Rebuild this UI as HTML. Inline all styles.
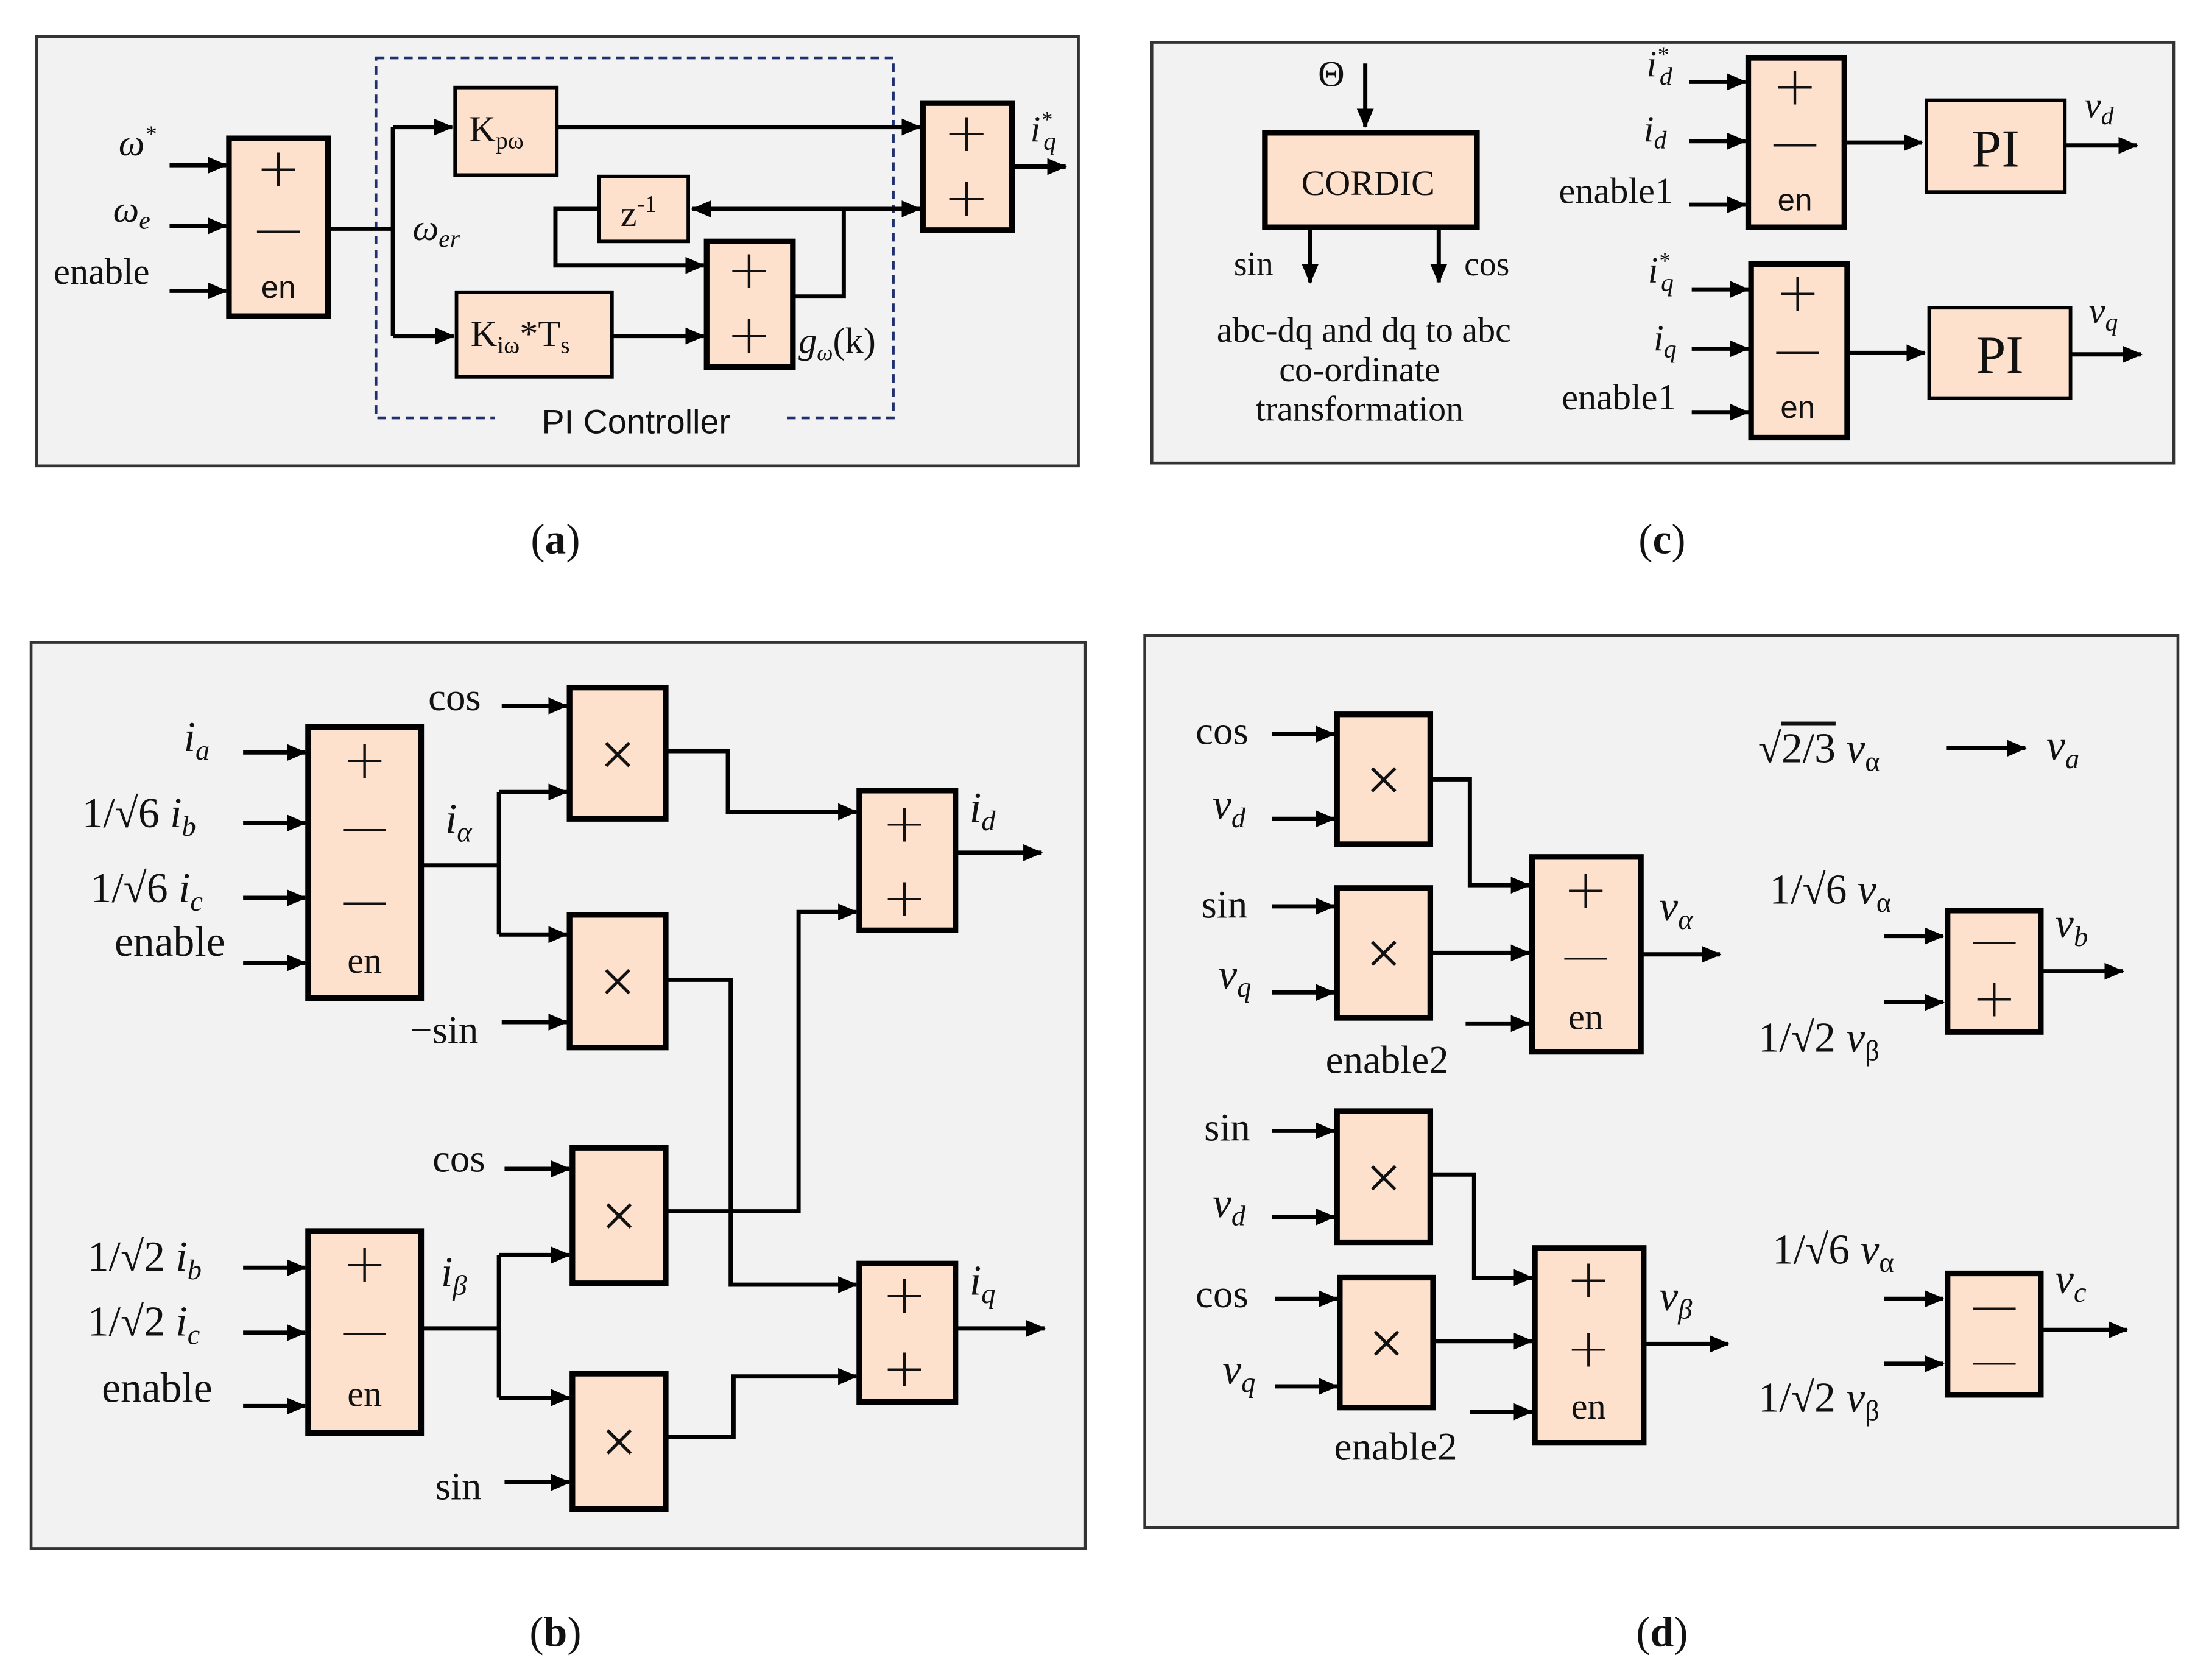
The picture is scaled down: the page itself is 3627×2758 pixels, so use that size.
<!DOCTYPE html>
<html><head><meta charset="utf-8"><style>
html,body{margin:0;padding:0;background:#fff}
svg{display:block}
text{font-family:"Liberation Serif","DejaVu Serif",serif;fill:#111}
.i{font-style:italic}
.s{font-family:"Liberation Sans",sans-serif}
.p{font-size:38px;font-family:"DejaVu Sans","Liberation Sans",sans-serif;font-weight:300}
</style></head><body>
<svg width="3627" height="2758" viewBox="0 0 1563 1190" preserveAspectRatio="none" xmlns="http://www.w3.org/2000/svg">
<defs>
<marker id="a" markerWidth="14" markerHeight="12" refX="13" refY="6" orient="auto" markerUnits="userSpaceOnUse"><path d="M0,0 L14,6 L0,12 z" fill="#000"/></marker>
</defs>
<g fill="#f2f2f2" stroke="#333" stroke-width="2">
<rect x="26" y="26" width="737" height="304"/>
<rect x="815" y="30" width="723" height="298"/>
<rect x="22" y="455" width="746" height="642"/>
<rect x="810" y="450" width="731" height="632"/>
</g>
<g fill="#fde1cd" stroke="#000" stroke-width="4">
<rect x="162" y="98" width="70" height="126"/>
<rect x="322" y="62" width="72" height="62" stroke-width="2.5"/>
<rect x="323" y="207" width="110" height="60" stroke-width="2.5"/>
<rect x="424" y="125" width="63" height="46" stroke-width="2.5"/>
<rect x="500" y="171" width="61" height="89"/>
<rect x="653" y="73" width="63" height="90"/>
<rect x="895" y="94" width="150" height="67"/>
<rect x="1237" y="41" width="68" height="120"/>
<rect x="1363" y="71" width="98" height="65" stroke-width="2.5"/>
<rect x="1239" y="187" width="68" height="123"/>
<rect x="1365" y="218" width="100" height="64" stroke-width="2.5"/>
<rect x="218" y="515" width="80" height="192"/>
<rect x="218" y="872" width="80" height="143"/>
<rect x="403" y="487" width="68" height="93"/>
<rect x="403" y="648" width="68" height="94"/>
<rect x="405" y="813" width="66" height="96"/>
<rect x="405" y="973" width="66" height="96"/>
<rect x="608" y="560" width="68" height="99"/>
<rect x="608" y="895" width="68" height="98"/>
<rect x="946" y="506" width="66" height="92"/>
<rect x="946" y="629" width="66" height="92"/>
<rect x="946" y="787" width="66" height="93"/>
<rect x="948" y="905" width="66" height="92"/>
<rect x="1084" y="607" width="77" height="138"/>
<rect x="1086" y="884" width="77" height="138"/>
<rect x="1378" y="645" width="66" height="86"/>
<rect x="1378" y="902" width="66" height="86"/>
</g>
<rect x="266" y="41" width="366" height="255" fill="none" stroke="#1f2f6f" stroke-width="2" stroke-dasharray="6,4"/>
<rect x="350" y="284" width="205" height="24" fill="#f2f2f2"/>

<g stroke="#000" stroke-width="3" fill="none" marker-end="url(#a)">
<path d="M120 117H160"/><path d="M120 160H160"/><path d="M120 206H160"/>
<path d="M278 90H320"/><path d="M278 238H321"/>
<path d="M394 90H651"/><path d="M433 238H498"/>
<path d="M650 148H490"/><path d="M597 148H651"/>
<path d="M424 148H393V188H498"/>
<path d="M716 118H754"/>
<path d="M966 45V90"/><path d="M927 161V200"/><path d="M1018 161V200"/>
<path d="M1195 58H1235"/><path d="M1195 100H1235"/><path d="M1195 145H1235"/>
<path d="M1305 101H1360"/><path d="M1461 103H1512"/>
<path d="M1197 205H1237"/><path d="M1197 247H1237"/><path d="M1197 292H1237"/>
<path d="M1307 250H1362"/><path d="M1465 251H1515"/>
<path d="M172 533H216"/><path d="M172 583H216"/><path d="M172 636H216"/><path d="M172 682H216"/>
<path d="M172 898H216"/><path d="M172 944H216"/><path d="M172 996H216"/>
<path d="M353 561H401"/><path d="M353 662H401"/>
<path d="M353 889H403"/><path d="M353 990H403"/>
<path d="M355 500H401"/><path d="M355 724H401"/><path d="M357 828H403"/><path d="M357 1050H403"/>
<path d="M471 532H515V575H606"/>
<path d="M471 694H517V910H606"/>
<path d="M471 858H565V646H606"/>
<path d="M471 1018H519V975H606"/>
<path d="M676 604H737"/><path d="M676 941H739"/>
<path d="M900 520H944"/><path d="M900 580H944"/>
<path d="M900 642H944"/><path d="M900 703H944"/>
<path d="M900 801H944"/><path d="M900 862H944"/>
<path d="M902 920H946"/><path d="M902 982H946"/>
<path d="M1012 552H1040V627H1082"/><path d="M1012 675H1082"/><path d="M1037 725H1082"/>
<path d="M1012 832H1043V905H1084"/><path d="M1014 950H1084"/><path d="M1040 1000H1084"/>
<path d="M1161 676H1217"/><path d="M1163 952H1223"/>
<path d="M1377 530H1433"/>
<path d="M1333 663H1375"/><path d="M1333 710H1375"/><path d="M1444 688H1502"/>
<path d="M1333 920H1375"/><path d="M1333 966H1375"/><path d="M1444 942H1505"/>
</g>
<g stroke="#000" stroke-width="3" fill="none">
<path d="M232 162H278M278 90V238"/>
<path d="M561 210H597V148"/>
<path d="M298 613H353M353 561V662"/>
<path d="M298 941H353M353 889V990"/>
</g>

<g font-size="30" text-anchor="middle">
<text x="197" y="132" class="p">+</text><text x="197" y="171">—</text><text x="197" y="211" class="s" font-size="22">en</text>
<text x="530" y="204" class="p">+</text><text x="530" y="250" class="p">+</text>
<text x="684" y="107" class="p">+</text><text x="684" y="153" class="p">+</text>
<text x="1270" y="74" class="p">+</text><text x="1270" y="110">—</text><text x="1270" y="149" class="s" font-size="22">en</text>
<text x="1272" y="220" class="p">+</text><text x="1272" y="257">—</text><text x="1272" y="296" class="s" font-size="22">en</text>
<text x="258" y="551" class="p">+</text><text x="258" y="595">—</text><text x="258" y="647">—</text><text x="258" y="689" font-size="26">en</text>
<text x="258" y="908" class="p">+</text><text x="258" y="952">—</text><text x="258" y="996" font-size="26">en</text>
<text x="640" y="596" class="p">+</text><text x="640" y="649" class="p">+</text>
<text x="640" y="930" class="p">+</text><text x="640" y="982" class="p">+</text>
<g font-size="44"><text x="437" y="549">×</text><text x="437" y="710">×</text><text x="438" y="876">×</text><text x="438" y="1036">×</text>
<text x="979" y="567">×</text><text x="979" y="690">×</text><text x="979" y="849">×</text><text x="981" y="966">×</text></g>
<text x="1122" y="643" class="p">+</text><text x="1122" y="686">—</text><text x="1122" y="729" font-size="26">en</text>
<text x="1124" y="919" class="p">+</text><text x="1124" y="968" class="p">+</text><text x="1124" y="1005" font-size="26">en</text>
<text x="1411" y="675">—</text><text x="1411" y="720" class="p">+</text>
<text x="1411" y="934">—</text><text x="1411" y="973">—</text>
</g>

<g font-size="26">
<text x="84" y="110" class="i">ω<tspan font-size="16" dy="-10">*</tspan></text>
<text x="80" y="157" class="i">ω<tspan font-size="18" dy="5">e</tspan></text>
<text x="38" y="201">enable</text>
<text x="292" y="170" class="i">ω<tspan font-size="18" dy="5">er</tspan></text>
<text x="332" y="100">K<tspan font-size="17" dy="5">pω</tspan></text>
<text x="333" y="245">K<tspan font-size="17" dy="5">iω</tspan><tspan dy="-5">*T</tspan><tspan font-size="17" dy="5">s</tspan></text>
<text x="439" y="160">z<tspan font-size="17" dy="-10">-1</tspan></text>
<text x="565" y="250"><tspan class="i">g</tspan><tspan font-size="16" dy="5" class="i">ω</tspan><tspan dy="-5">(k)</tspan></text>
<text x="729" y="100" class="i">i<tspan font-size="16" dy="-10">*</tspan><tspan font-size="18" dx="-6" dy="16">q</tspan></text>
<text x="450" y="307" text-anchor="middle" class="s" font-size="24">PI Controller</text>
<text x="942" y="61" text-anchor="middle">Θ</text>
<text x="968" y="138" text-anchor="middle" font-size="25">CORDIC</text>
<text x="887" y="195" text-anchor="middle" font-size="24">sin</text>
<text x="1052" y="195" text-anchor="middle" font-size="24">cos</text>
<text x="965" y="242" text-anchor="middle" font-size="25">abc-dq and dq to abc</text>
<text x="962" y="270" text-anchor="middle" font-size="25">co-ordinate</text>
<text x="962" y="298" text-anchor="middle" font-size="25">transformation</text>
<text x="1165" y="54" class="i">i<tspan font-size="16" dy="-10">*</tspan><tspan font-size="18" dx="-6" dy="16">d</tspan></text>
<text x="1163" y="100" class="i">i<tspan font-size="18" dy="5">d</tspan></text>
<text x="1103" y="144">enable1</text>
<text x="1166" y="200" class="i">i<tspan font-size="16" dy="-10">*</tspan><tspan font-size="18" dx="-6" dy="16">q</tspan></text>
<text x="1170" y="248" class="i">i<tspan font-size="18" dy="5">q</tspan></text>
<text x="1105" y="290">enable1</text>
<text x="1412" y="118" text-anchor="middle" font-size="38">PI</text>
<text x="1415" y="264" text-anchor="middle" font-size="38">PI</text>
<text x="1475" y="83" class="i">v<tspan font-size="18" dy="5">d</tspan></text>
<text x="1478" y="229" class="i">v<tspan font-size="18" dy="5">q</tspan></text>
<g font-size="30">
<text x="130" y="532" class="i">i<tspan font-size="20" dy="6">a</tspan></text>
<text x="58" y="586">1/√6 <tspan class="i">i</tspan><tspan class="i" font-size="20" dy="6">b</tspan></text>
<text x="64" y="639">1/√6 <tspan class="i">i</tspan><tspan class="i" font-size="20" dy="6">c</tspan></text>
<text x="81" y="677">enable</text>
<text x="62" y="900">1/√2 <tspan class="i">i</tspan><tspan class="i" font-size="20" dy="6">b</tspan></text>
<text x="62" y="946">1/√2 <tspan class="i">i</tspan><tspan class="i" font-size="20" dy="6">c</tspan></text>
<text x="72" y="993">enable</text>
<text x="303" y="503" font-size="28">cos</text>
<text x="290" y="739" font-size="28">−sin</text>
<text x="306" y="830" font-size="28">cos</text>
<text x="308" y="1062" font-size="28">sin</text>
<text x="315" y="590" class="i">i<tspan font-size="20" dy="6">α</tspan></text>
<text x="312" y="911" class="i">i<tspan font-size="20" dy="6">β</tspan></text>
<text x="686" y="582" class="i">i<tspan font-size="20" dy="6">d</tspan></text>
<text x="686" y="917" class="i">i<tspan font-size="20" dy="6">q</tspan></text>
<text x="846" y="527" font-size="28">cos</text>
<text x="858" y="580" class="i">v<tspan font-size="20" dy="6">d</tspan></text>
<text x="850" y="650" font-size="28">sin</text>
<text x="862" y="700" class="i">v<tspan font-size="20" dy="6">q</tspan></text>
<text x="938" y="760" font-size="28">enable2</text>
<text x="852" y="808" font-size="28">sin</text>
<text x="858" y="862" class="i">v<tspan font-size="20" dy="6">d</tspan></text>
<text x="846" y="926" font-size="28">cos</text>
<text x="865" y="980" class="i">v<tspan font-size="20" dy="6">q</tspan></text>
<text x="944" y="1034" font-size="28">enable2</text>
<text x="1174" y="652" class="i">v<tspan font-size="20" dy="6">α</tspan></text>
<text x="1174" y="928" class="i">v<tspan font-size="20" dy="6">β</tspan></text>
<text x="1244" y="540">√<tspan text-decoration="overline">2/3</tspan> <tspan class="i">v</tspan><tspan font-size="20" dy="6">α</tspan></text>
<text x="1448" y="538" class="i">v<tspan font-size="20" dy="6">a</tspan></text>
<text x="1252" y="640">1/√6 <tspan class="i">v</tspan><tspan font-size="20" dy="6">α</tspan></text>
<text x="1244" y="745">1/√2 <tspan class="i">v</tspan><tspan font-size="20" dy="6">β</tspan></text>
<text x="1454" y="664" class="i">v<tspan font-size="20" dy="6">b</tspan></text>
<text x="1254" y="895">1/√6 <tspan class="i">v</tspan><tspan font-size="20" dy="6">α</tspan></text>
<text x="1244" y="1000">1/√2 <tspan class="i">v</tspan><tspan font-size="20" dy="6">β</tspan></text>
<text x="1454" y="916" class="i">v<tspan font-size="20" dy="6">c</tspan></text>
</g>
<g font-size="30" text-anchor="middle">
<text x="393" y="392">(<tspan font-weight="bold">a</tspan>)</text>
<text x="1176" y="392">(<tspan font-weight="bold">c</tspan>)</text>
<text x="393" y="1166">(<tspan font-weight="bold">b</tspan>)</text>
<text x="1176" y="1166">(<tspan font-weight="bold">d</tspan>)</text>
</g>
</g>
</svg>
</body></html>
